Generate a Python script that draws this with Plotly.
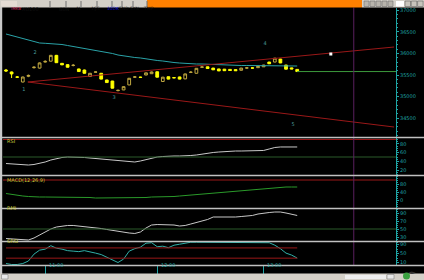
import plotly.graph_objects as go

W, H = 424, 280
def px(x): return x / W
def py(y): return 1 - y / H

# ---------------- data ----------------
opens  = [35615,35570,35455,35338,35470,35670,35660,35800,35820,35955,35770,35740,35720,35640,35615,35465,35565,35540,35385,35360,
          35140,35155,35270,35450,35450,35500,35530,35575,35350,35460,35440,35455,35410,35560,35540,35680,35690,35660,35640,35635,
          35630,35625,35610,35660,35665,35670,35690,35800,35800,35870,35730,35665,35630]
highs  = [35640,35580,35475,35460,35510,35700,35790,35840,35965,35965,35775,35745,35755,35645,35625,35545,35580,35545,35390,35365,
          35160,35235,35430,35475,35460,35555,35580,35580,35455,35465,35450,35460,35530,35590,35660,35700,35695,35665,35645,35640,
          35635,35630,35665,35680,35675,35705,35735,35805,35895,35875,35735,35670,35635]
lows   = [35570,35430,35430,35330,35450,35650,35650,35790,35815,35780,35730,35675,35700,35575,35535,35460,35555,35400,35320,35190,
          35120,35150,35265,35435,35440,35495,35525,35445,35345,35400,35425,35400,35405,35545,35535,35670,35645,35615,35590,35595,
          35600,35595,35605,35650,35650,35665,35685,35755,35795,35775,35630,35635,35575]
closes = [35595,35525,35450,35454,35490,35680,35780,35815,35955,35785,35735,35680,35725,35580,35540,35540,35570,35405,35325,35195,
          35145,35230,35425,35455,35445,35550,35570,35450,35450,35405,35435,35405,35525,35565,35655,35685,35650,35620,35595,35600,
          35605,35600,35660,35665,35660,35700,35730,35760,35890,35780,35635,35640,35580]
ma_line = [36449,36414,36380,36345,36310,36275,36241,36234,36227,36218,36206,36183,36160,36148,36125,36102,36079,36056,36021,35998,
           35963,35940,35928,35905,35894,35870,35847,35836,35824,35801,35789,35778,35766,35762,35755,35755,35748,35743,35731,35731,
           35731,35727,35720,35720,35720,35720,35720,35720,35720,35720,35715,35708,35708]
rsi  = [35.1,34.0,32.9,31.7,31.7,32.9,35.1,38.6,43.1,46.6,48.9,50,50,50,48.9,47.7,46.6,45.4,44.3,43.1,
        42.0,40.9,39.7,38.6,40.9,44.3,47.7,50,51.1,52.3,52.3,52.3,52.3,53.4,54.6,56.9,59.1,60.3,61.4,62.6,
        63.7,63.7,63.7,63.7,63.7,63.7,64.9,68.3,71.7,72.9,72.9,72.9,72.9]
macd = [32.5,27.5,22.5,20,17.5,15,15,15,15,15,15,15,15,15,15,12.5,10,10,10,10,
        10,10,10,10,12.5,12.5,15,15,15,15,17.5,20,22.5,25,27.5,30,32.5,35,37.5,40,
        42.5,45,47.5,50,52.5,55,57.5,60,62.5,65,65,65,65]
rmi = [26.2,25.0,23.8,22.5,22.5,27.5,35.0,42.5,50.0,55.0,57.5,58.8,58.8,57.5,56.2,55.0,52.5,51.2,48.8,46.2,
       43.8,41.2,40.0,38.8,42.5,52.5,60.0,61.2,61.2,60.0,60.0,57.5,58.8,62.5,66.2,70.0,73.8,80.0,80.0,80.0,
       78.8,80.0,81.2,82.5,83.8,87.5,90.0,91.2,92.5,92.5,90.0,87.5,83.8]
srsi = [6.5,2.2,2.2,6.5,17.4,47.8,65.2,69.6,84.8,73.9,69.6,63.0,60.9,58.7,63.0,58.7,52.2,45.7,34.8,21.7,
        10.9,26.1,60.9,71.7,78.3,95.7,97.8,80.4,82.6,76.1,87.0,91.3,95.7,100,100,100,100,100,100,100,
        100,100,100,100,100,100,100,97.8,87.0,71.7,52.2,43.5,30.4]

trend_x = [3.9, 69.3]
trend_upper = [35338, 36148]
trend_lower = [35338, 34296]

wave_x = [3.2, 5.2, 19.3, 46.25, 51.25]
wave_y = [35153, 36009, 34968, 36218, 34343]
wave_text = ["1", "2", "3", "4", "5"]

mark_x = [58.0]
mark_y = [35986]

price_ticks = [34500, 35000, 35500, 36000, 36500, 37000]
rsi_ticks = [20, 40, 60, 80]
macd_ticks = [0, 40, 80]
rmi_ticks = [30, 50, 70, 90]
srsi_ticks = [10, 50, 90]
time_tickvals = [7, 27, 46]
time_ticktext = ["11:00", "12:00", "13:00"]
divider_x = 62.1

tabs = ["GÜN", "1L", "1ŞS", "10DK", "5ND", "5YN", "TMP"]
tab_x = [57, 74, 89, 104.5, 117, 127.5, 140.5]
tab_sep = [50, 66, 81, 97, 112, 122, 133, 147]

TEAL = "#1fa5a5"
RED = "#9a1818"
n = len(closes)
idx = list(range(n))
XMAX = 69.64

fig = go.Figure()
fig.add_trace(go.Scatter(x=idx, y=ma_line, mode="lines", line=dict(color="#2aa3a8", width=1), yaxis="y", hoverinfo="skip"))
fig.add_trace(go.Scatter(x=trend_x, y=trend_upper, mode="lines", line=dict(color=RED, width=1), yaxis="y", hoverinfo="skip"))
fig.add_trace(go.Scatter(x=trend_x, y=trend_lower, mode="lines", line=dict(color=RED, width=1), yaxis="y", hoverinfo="skip"))
fig.add_trace(go.Scatter(x=[n - 1, XMAX], y=[closes[-1], closes[-1]], mode="lines", line=dict(color="#3c9a3c", width=1), yaxis="y", hoverinfo="skip"))
fig.add_trace(go.Candlestick(x=idx, open=opens, high=highs, low=lows, close=closes,
    increasing=dict(line=dict(color="#c0a840", width=1), fillcolor="#000000"),
    decreasing=dict(line=dict(color="#ffff00", width=1), fillcolor="#ffff00"),
    whiskerwidth=0, yaxis="y", hoverinfo="skip"))
fig.add_trace(go.Scatter(x=wave_x, y=wave_y, mode="text", text=wave_text,
    textfont=dict(size=5, color="#4a9a9a", family="DejaVu Sans"), yaxis="y", hoverinfo="skip"))
fig.add_trace(go.Scatter(x=mark_x, y=mark_y, mode="markers", marker=dict(symbol="square", size=3, color="#ffffff"), yaxis="y", hoverinfo="skip"))

fig.add_trace(go.Scatter(x=idx, y=rsi, mode="lines", line=dict(color="#c8c8c8", width=1), yaxis="y2", hoverinfo="skip"))
fig.add_trace(go.Scatter(x=idx, y=macd, mode="lines", line=dict(color="#2a9a2a", width=1), yaxis="y3", hoverinfo="skip"))
fig.add_trace(go.Scatter(x=idx, y=rmi, mode="lines", line=dict(color="#c8c8c8", width=1), yaxis="y4", hoverinfo="skip"))
fig.add_trace(go.Scatter(x=idx, y=srsi, mode="lines", line=dict(color="#30b0a8", width=1), yaxis="y5", hoverinfo="skip"))
for lvl in (75, 30):
    fig.add_trace(go.Scatter(x=[0, n - 1], y=[lvl, lvl], mode="lines", line=dict(color=RED, width=1), yaxis="y5", hoverinfo="skip"))

def yax(dom, rng, tickvals, ticktext=None, minor=None):
    d = dict(domain=dom, range=rng, side="right", anchor="x", showline=True, linecolor=TEAL, linewidth=1,
             ticks="outside", ticklen=2, tickcolor=TEAL, tickvals=tickvals,
             tickfont=dict(size=5, color=TEAL, family="DejaVu Sans"), showgrid=False, zeroline=False, fixedrange=True)
    if ticktext is not None:
        d["ticktext"] = ticktext
    if minor:
        d["minor"] = minor
    return d

layout = dict(
    width=W, height=H, margin=dict(l=0, r=0, t=0, b=0),
    paper_bgcolor="#000000", plot_bgcolor="#000000", showlegend=False,
    xaxis=dict(domain=[px(3), px(396)], range=[-0.536, XMAX], anchor="y5", showgrid=False, zeroline=False,
               showline=False, ticks="outside", ticklen=8, tickcolor=TEAL, tickvals=time_tickvals,
               showticklabels=False, rangeslider=dict(visible=False), fixedrange=True),
    yaxis=yax([py(137), py(8)], [34065, 37051], price_ticks, [str(v) for v in price_ticks],
              minor=dict(dtick=100, ticklen=1, tickcolor=TEAL, ticks="outside")),
    yaxis2=yax([py(175), py(138)], [8.9, 93.4], rsi_ticks, minor=dict(dtick=5, ticklen=1, tickcolor=TEAL, ticks="outside")),
    yaxis3=yax([py(208), py(176)], [-40, 120], macd_ticks, minor=dict(dtick=10, ticklen=1, tickcolor=TEAL, ticks="outside")),
    yaxis4=yax([py(241), py(209)], [20, 100], rmi_ticks, minor=dict(dtick=5, ticklen=1, tickcolor=TEAL, ticks="outside")),
    yaxis5=yax([py(265), py(242)], [0, 101], srsi_ticks, minor=dict(dtick=10, ticklen=1, tickcolor=TEAL, ticks="outside")),
)
fig.update_layout(**layout)

shapes = []
ann = []
# reference levels
shapes.append(dict(type="line", xref="paper", x0=px(3), x1=px(396), yref="y2", y0=90, y1=90, line=dict(color=RED, width=1)))
shapes.append(dict(type="line", xref="paper", x0=px(3), x1=px(396), yref="y2", y0=50, y1=50, line=dict(color="#2a5a2a", width=1)))
shapes.append(dict(type="line", xref="paper", x0=px(3), x1=px(396), yref="y3", y0=100, y1=100, line=dict(color=RED, width=1)))
shapes.append(dict(type="line", xref="paper", x0=px(3), x1=px(396), yref="y4", y0=50, y1=50, line=dict(color="#2a5a2a", width=1)))
# divider
shapes.append(dict(type="line", xref="x", x0=divider_x, x1=divider_x, yref="paper", y0=py(265), y1=py(7.5), line=dict(color="#5a2060", width=1)))
# panel separators
for yy in (137.5, 175.5, 208.5, 241.5, 265.5):
    shapes.append(dict(type="line", xref="paper", x0=px(2), x1=1, yref="paper", y0=py(yy), y1=py(yy), line=dict(color="#c0c0c0", width=1.3)))
# left frame
shapes.append(dict(type="rect", xref="paper", yref="paper", x0=0, x1=px(2.2), y0=py(274), y1=py(7), fillcolor="#c8c8c8", line=dict(width=0)))
# top toolbar
shapes.append(dict(type="rect", xref="paper", yref="paper", x0=0, x1=px(147), y0=py(7.5), y1=1, fillcolor="#d4d0c8", line=dict(width=0)))
shapes.append(dict(type="rect", xref="paper", yref="paper", x0=px(147), x1=px(362), y0=py(7.5), y1=1, fillcolor="#ff8000", line=dict(width=0)))
shapes.append(dict(type="rect", xref="paper", yref="paper", x0=px(362), x1=1, y0=py(7.5), y1=1, fillcolor="#d4d0c8", line=dict(width=0)))
for i in range(5):
    x0 = 364 + i * 6
    shapes.append(dict(type="rect", xref="paper", yref="paper", x0=px(x0), x1=px(x0 + 5), y0=py(6.5), y1=py(1),
                       fillcolor="#b8b4ac", line=dict(color="#606060", width=0.5)))
shapes.append(dict(type="rect", xref="paper", yref="paper", x0=px(396), x1=px(404), y0=py(6.5), y1=py(1), fillcolor="#ffffff", line=dict(width=0)))
for i in range(3):
    x0 = 405 + i * 6.3
    shapes.append(dict(type="rect", xref="paper", yref="paper", x0=px(x0), x1=px(x0 + 5.5), y0=py(6.5), y1=py(1),
                       fillcolor="#c8c4bc", line=dict(color="#505050", width=0.5)))
shapes.append(dict(type="rect", xref="paper", yref="paper", x0=px(1), x1=px(17), y0=py(6.5), y1=py(1), fillcolor="#e4dcd4", line=dict(width=0)))
for s in tab_sep:
    shapes.append(dict(type="line", xref="paper", yref="paper", x0=px(s), x1=px(s), y0=py(7), y1=py(1), line=dict(color="#707070", width=1)))
ann.append(dict(x=px(9), y=py(3.8), xref="paper", yref="paper", text="IMKB", showarrow=False,
                font=dict(size=4, color="#c83060", family="DejaVu Sans")))
ann.append(dict(x=px(20), y=py(3.8), xref="paper", yref="paper", text="XU100", showarrow=False, xanchor="left",
                font=dict(size=5, color="#101010", family="DejaVu Sans")))
for t, xx in zip(tabs, tab_x):
    ann.append(dict(x=px(xx), y=py(3.8), xref="paper", yref="paper", text=t, showarrow=False,
                    font=dict(size=4.5, color="#1010d0" if t == "10DK" else "#101010", family="DejaVu Sans")))
# bottom scrollbar
shapes.append(dict(type="rect", xref="paper", yref="paper", x0=0, x1=1, y0=0, y1=py(273.5), fillcolor="#d4d0c8", line=dict(width=0)))
shapes.append(dict(type="rect", xref="paper", yref="paper", x0=px(345), x1=px(386), y0=py(279), y1=py(275), fillcolor="#eeeeee", line=dict(width=0)))
shapes.append(dict(type="rect", xref="paper", yref="paper", x0=px(1.5), x1=px(8), y0=py(279), y1=py(274.5), fillcolor="#e8e8e8", line=dict(color="#707070", width=0.5)))
shapes.append(dict(type="rect", xref="paper", yref="paper", x0=px(387), x1=px(394), y0=py(279), y1=py(274.5), fillcolor="#e8e8e8", line=dict(color="#707070", width=0.5)))
shapes.append(dict(type="circle", xref="paper", yref="paper", x0=px(403), x1=px(410), y0=py(279.5), y1=py(272.5), fillcolor="#3aa040", line=dict(width=0)))
ann.append(dict(x=px(418), y=py(276.5), xref="paper", yref="paper", text="◄►", showarrow=False,
                font=dict(size=5, color="#303030", family="DejaVu Sans")))
# panel labels
for lab, yy in (("RSI", 140.5), ("MACD(12,26,9)", 179.5), ("RMI", 212.5), ("SRSI", 245.5)):
    ann.append(dict(x=px(5), y=py(yy), xref="paper", yref="paper", text=lab, showarrow=False, xanchor="left",
                    font=dict(size=5, color="#c8c83a", family="DejaVu Sans")))
# time labels
for tv, tt in zip(time_tickvals, time_ticktext):
    ann.append(dict(x=tv + 0.3, y=py(270), xref="x", yref="paper", text=tt, showarrow=False, xanchor="left",
                    font=dict(size=5, color=TEAL, family="DejaVu Sans")))
fig.update_layout(shapes=shapes, annotations=ann)
fig.write_html("out.html")
